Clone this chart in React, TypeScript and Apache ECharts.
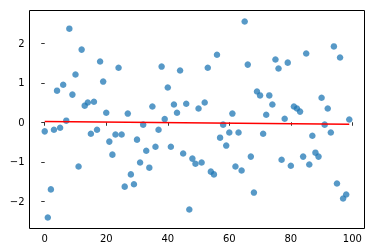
import React, { useEffect, useRef } from "react";
import * as echarts from "echarts";

const xValues: number[] = Array.from({ length: 100 }, (_, i) => i);
const yValues: number[] = [
  -0.23, -2.41, -1.70, -0.19, 0.80, -0.14, 0.95, 0.04, 2.37, 0.70,
  1.21, -1.12, 1.84, 0.42, 0.50, -0.29, 0.52, -0.19, 1.54, 1.03,
  0.24, -0.49, -0.82, -0.31, 1.38, -0.31, -1.63, 0.22, -1.32, -1.57,
  -0.44, -1.02, -0.06, -0.72, -1.15, 0.40, -0.62, -0.19, 1.41, 0.08,
  0.88, -0.62, 0.45, 0.24, 1.31, -0.79, 0.47, -2.21, -0.92, -1.05,
  0.35, -1.02, 0.50, 1.38, -1.25, -1.32, 1.71, -0.39, -0.06, -0.59,
  -0.26, 0.22, -1.12, -0.26, -1.22, 2.55, 1.46, -0.87, -1.78, 0.78,
  0.68, -0.29, 0.19, 0.68, 0.45, 1.59, 1.36, -0.95, 0.09, 1.51,
  -1.10, 0.40, 0.35, 0.27, -0.87, 1.74, -1.07, -0.34, -0.77, -0.87,
  0.62, -0.06, 0.35, -0.26, 1.92, -1.55, 1.64, -1.93, -1.83, 0.07,
];
const fitX: number[] = [0, 99];
const fitY: number[] = [0.02, -0.05];
const xTicks: number[] = [0, 20, 40, 60, 80, 100];
const yTicks: number[] = [-2, -1, 0, 1, 2];

const fmt = (v: number) => String(v).replace("-", "\u2212");

export default function App() {
  const ref = useRef<HTMLDivElement>(null);
  useEffect(() => {
    const chart = echarts.init(ref.current!, undefined, { renderer: "svg" });
    chart.setOption({
      animation: false,
      grid: {
        left: 29.5,
        top: 10.5,
        width: 335,
        height: 218,
        show: true,
        borderColor: "#000",
        borderWidth: 1,
        backgroundColor: "transparent",
      },
      xAxis: {
        type: "value",
        min: -4.95,
        max: 103.95,
        splitLine: { show: false },
        axisLine: { show: false },
        axisTick: {
          show: true,
          length: 3.5,
          lineStyle: { color: "#000", width: 0.8 },
          customValues: xTicks,
        },
        axisLabel: {
          customValues: xTicks,
          formatter: (v: number) => fmt(v),
          color: "#000",
          fontFamily: "DejaVu Sans",
          fontSize: 10,
          margin: 5,
        },
      },
      yAxis: {
        type: "value",
        min: -2.69,
        max: 2.83,
        splitLine: { show: false },
        axisLine: { show: false },
        axisTick: {
          show: true,
          length: 3.5,
          lineStyle: { color: "#000", width: 0.8 },
          customValues: yTicks,
        },
        axisLabel: {
          customValues: yTicks,
          formatter: (v: number) => fmt(v),
          color: "#000",
          fontFamily: "DejaVu Sans",
          fontSize: 10,
          margin: 5,
        },
      },
      series: [
        {
          type: "scatter",
          data: xValues.map((x, i) => [x, yValues[i]]),
          symbolSize: 6.5,
          itemStyle: { color: "#1f77b4", opacity: 0.75 },
          z: 2,
        },
        {
          type: "line",
          data: fitX.map((x, i) => [x, fitY[i]]),
          symbol: "none",
          lineStyle: { color: "#ff0000", width: 1.5 },
          z: 3,
        },
      ],
    });
    return () => chart.dispose();
  }, []);
  return (
    <div
      ref={ref}
      style={{ position: "fixed", left: 0, top: 0, width: 374, height: 252 }}
    />
  );
}
